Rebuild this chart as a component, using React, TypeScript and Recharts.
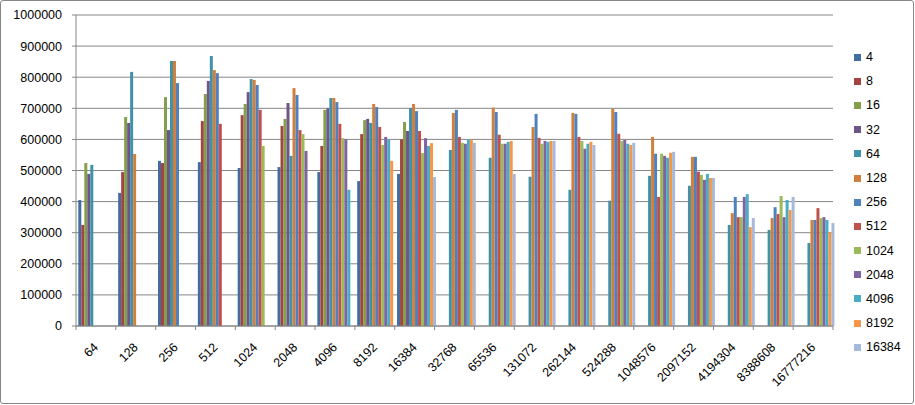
import React from 'react';
import { BarChart, Bar, XAxis, YAxis, CartesianGrid, Legend } from 'recharts';

const categories = ['64', '128', '256', '512', '1024', '2048', '4096', '8192', '16384', '32768', '65536', '131072', '262144', '524288', '1048576', '2097152', '4194304', '8388608', '16777216'];

const seriesNames = ['4', '8', '16', '32', '64', '128', '256', '512', '1024', '2048', '4096', '8192', '16384'];

const seriesColors = ['#436DA1', '#A34441', '#849F4C', '#6D558A', '#4092A8', '#D27F3B', '#4F81BD', '#C0504D', '#9BBB59', '#8064A2', '#4BACC6', '#F79646', '#A7B9DA'];

const yTicks = [0, 100000, 200000, 300000, 400000, 500000, 600000, 700000, 800000, 900000, 1000000];

const N = null;
const s4 = [405000, 428000, 531000, 527000, 508000, 511000, 495000, 466000, 489000, N, N, N, N, N, N, N, N, N, N];
const s8 = [325000, 495000, 524000, 659000, 678000, 643000, 579000, 617000, 600000, N, N, N, N, N, N, N, N, N, N];
const s16 = [524000, 672000, 736000, 746000, 714000, 666000, 695000, 662000, 656000, N, N, N, N, N, N, N, N, N, N];
const s32 = [489000, 653000, 630000, 788000, 752000, 717000, 700000, 666000, 627000, N, N, N, N, N, N, N, N, N, N];
const s64 = [518000, 817000, 852000, 868000, 794000, 547000, 733000, 653000, 701000, 566000, 541000, 480000, 438000, 403000, 483000, 451000, 325000, 309000, 267000];
const s128 = [N, 553000, 852000, 823000, 791000, 765000, 733000, 714000, 714000, 685000, 702000, 640000, 685000, 698000, 608000, 544000, 363000, 347000, 341000];
const s256 = [N, N, 781000, 813000, 775000, 743000, 720000, 704000, 691000, 695000, 688000, 682000, 682000, 688000, 554000, 544000, 415000, 382000, 341000];
const s512 = [N, N, N, 650000, 695000, 630000, 650000, 640000, 627000, 608000, 615000, 605000, 608000, 618000, 415000, 496000, 350000, 360000, 379000];
const s1024 = [N, N, N, N, 579000, 617000, 604000, 582000, 556000, 589000, 586000, 586000, 595000, 595000, 554000, 486000, 350000, 418000, 347000];
const s2048 = [N, N, N, N, N, 563000, 600000, 608000, 604000, 586000, 586000, 595000, 570000, 598000, 547000, 470000, 415000, 350000, 350000];
const s4096 = [N, N, N, N, N, N, 438000, 600000, 579000, 601000, 592000, 592000, 586000, 586000, 541000, 489000, 424000, 405000, 341000];
const s8192 = [N, N, N, N, N, N, N, 531000, 588000, 599000, 595000, 595000, 592000, 582000, 557000, 476000, 318000, 373000, 302000];
const s16384 = [N, N, N, N, N, N, N, N, 479000, 589000, 489000, 595000, 582000, 589000, 560000, 476000, 347000, 415000, 331000];

const seriesValues = [s4, s8, s16, s32, s64, s128, s256, s512, s1024, s2048, s4096, s8192, s16384];

const data = categories.map((c, i) => {
  const row: Record<string, any> = { name: c };
  seriesNames.forEach((s, k) => {
    row['s' + s] = seriesValues[k][i];
  });
  return row;
});

const FONT = '"Liberation Sans", Arial, sans-serif';
const GRID = '#868686';

const XTick = (props: any) => {
  const { x, y, payload, index, visibleTicksCount, width } = props;
  const half = payload && payload.offset ? payload.offset : width / visibleTicksCount / 2;
  const axisY = y;
  return (
    <g>
      <line x1={x - half} x2={x - half} y1={axisY} y2={axisY + 4} stroke={GRID} strokeWidth={1} />
      {index === visibleTicksCount - 1 ? (
        <line x1={x + half} x2={x + half} y1={axisY} y2={axisY + 4} stroke={GRID} strokeWidth={1} />
      ) : null}
      <g transform={`translate(${x + 3},${axisY + 22}) rotate(-45)`}>
        <text x={0} y={0} textAnchor="end" fill="#000" fontSize={12.5} fontFamily={FONT}>
          {payload.value}
        </text>
      </g>
    </g>
  );
};

const LegendContent = () => (
  <div style={{ fontFamily: FONT, fontSize: 12.5, color: '#000' }}>
    {seriesNames.map((s, k) => (
      <div key={s} style={{ height: 24.2, lineHeight: '24.2px', display: 'flex', alignItems: 'center', whiteSpace: 'nowrap' }}>
        <span style={{ display: 'inline-block', width: 7, height: 7, background: seriesColors[k], marginLeft: 4, marginRight: 5 }} />
        <span>{s}</span>
      </div>
    ))}
  </div>
);

export default function App() {
  return (
    <div style={{ position: 'absolute', left: 0, top: 0, width: 915, height: 405, background: '#fff' }}>
      <BarChart
        width={915}
        height={405}
        data={data}
        margin={{ top: 15, right: 82, bottom: 0, left: 0 }}
        barCategoryGap={2.3}
        barGap={0}
      >
        <CartesianGrid vertical={false} stroke={GRID} strokeWidth={1} />
        <XAxis
          dataKey="name"
          height={79}
          axisLine={{ stroke: GRID }}
          tickLine={false}
          tickSize={0}
          tickMargin={0}
          interval={0}
          tick={<XTick />}
        />
        <YAxis
          width={76}
          domain={[0, 1000000]}
          ticks={yTicks}
          interval={0}
          axisLine={{ stroke: GRID }}
          tickLine={{ stroke: GRID }}
          tickSize={4}
          tickMargin={10}
          tickFormatter={(v: number) => String(v)}
          tick={{ fill: '#000', fontSize: 12.5, fontFamily: FONT }}
        />
        <Legend
          layout="vertical"
          align="center"
          verticalAlign="middle"
          wrapperStyle={{ left: 850, top: 45, width: 64 }}
          content={<LegendContent />}
        />
        {seriesNames.map((s, k) => (
          <Bar key={s} dataKey={'s' + s} name={s} fill={seriesColors[k]} isAnimationActive={false} />
        ))}
      </BarChart>
      <div
        style={{
          position: 'absolute',
          left: 0,
          top: 0,
          width: 914,
          height: 404,
          border: '1px solid #868686',
          borderRadius: 3,
          boxSizing: 'border-box',
          pointerEvents: 'none',
        }}
      />
    </div>
  );
}
